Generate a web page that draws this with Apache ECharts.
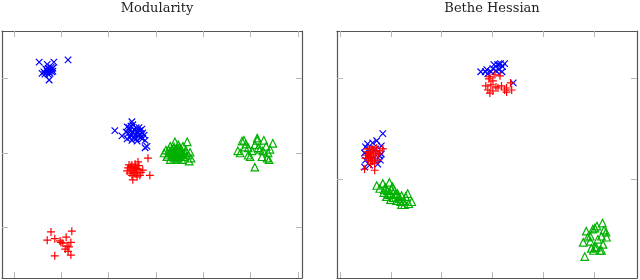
<!DOCTYPE html>
<html>
<head>
<meta charset="utf-8">
<script src="https://cdn.jsdelivr.net/npm/echarts@6/dist/echarts.min.js"></script>
<style>html,body{margin:0;padding:0;background:#fff}#c{width:640px;height:280px}</style>
</head>
<body>
<div id="c"></div>
<script>
// Panel titles
const titles = ["Modularity", "Bethe Hessian"];

// Tick positions (no labels shown)
const modXTicks = [-3, -2, -1, 0, 1, 2, 3];
const modYTicks = [-1, 0, 1];
const bheXTicks = [0, 1, 2, 3, 4, 5];
const bheYTicks = [0, 1];

// Modularity panel: [x, y]
const modBlue = [
  [-2.47,1.22],[-2.30,1.19],[-2.16,1.22],[-1.86,1.25],[-2.41,1.07],[-2.37,1.09],[-2.24,1.11],[-2.20,1.09],[-2.28,1.06],[-2.26,0.98],
  [-2.18,1.10],[-2.33,1.13],[-2.22,1.15],[-2.26,1.09],[-2.30,1.10],[-2.20,1.13],[-2.24,1.07],[-2.35,1.06],[-2.18,1.14],[-2.28,1.14],
  [-0.87,0.30],[-0.72,0.23],[-0.51,0.42],[-0.61,0.35],[-0.55,0.31],[-0.59,0.26],[-0.49,0.28],[-0.42,0.34],[-0.34,0.30],[-0.28,0.27],
  [-0.38,0.23],[-0.47,0.20],[-0.55,0.21],[-0.63,0.28],[-0.32,0.21],[-0.23,0.17],[-0.23,0.07],[-0.19,0.09],[-0.40,0.16],[-0.51,0.17],
  [-0.36,0.34],[-0.44,0.24],[-0.57,0.34],[-0.30,0.32],[-0.53,0.36],[-0.42,0.19],[-0.25,0.24],[-0.61,0.19],[-0.49,0.38],[-0.38,0.28],
  [-0.46,0.31],[-0.34,0.25],[-0.29,0.19],[-0.52,0.25],[-0.40,0.29]
];
const modRed = [
  [-0.17,-0.07],[-0.38,-0.12],[-0.51,-0.16],[-0.13,-0.30],[-0.49,-0.36],[-0.59,-0.20],[-0.53,-0.23],[-0.44,-0.19],[-0.38,-0.22],[-0.32,-0.26],
  [-0.42,-0.28],[-0.51,-0.30],[-0.55,-0.27],[-0.36,-0.17],[-0.28,-0.23],[-0.47,-0.24],[-0.40,-0.32],[-0.57,-0.16],[-0.34,-0.30],[-0.44,-0.15],[-0.61,-0.24],
  [-0.49,-0.20],[-0.45,-0.26],[-0.53,-0.18],[-0.41,-0.21],
  [-2.22,-1.06],[-1.78,-1.05],[-2.30,-1.17],[-2.14,-1.15],[-2.01,-1.20],[-1.90,-1.13],[-1.80,-1.20],[-1.92,-1.29],[-1.86,-1.32],[-1.80,-1.37],
  [-2.14,-1.38],[-1.88,-1.25],[-1.97,-1.21],[-2.03,-1.18],[-1.84,-1.26]
];
const modGreen = [
  [0.40,0.15],[0.66,0.15],[0.30,0.09],[0.47,0.11],[0.57,0.09],[0.21,0.04],[0.34,0.05],[0.51,0.05],[0.63,0.04],[0.72,0.01],
  [0.17,0.00],[0.28,0.00],[0.40,0.01],[0.53,0.00],[0.68,-0.03],[0.23,-0.05],[0.36,-0.04],[0.49,-0.04],[0.59,-0.05],[0.74,-0.07],
  [0.30,-0.09],[0.44,-0.09],[0.55,-0.09],[0.70,-0.11],[0.42,-0.01],[0.32,0.03],[0.55,0.03],[0.25,-0.03],[0.61,0.00],[0.38,-0.07],
  [0.38,0.08],[0.45,0.06],[0.43,0.03],[0.49,0.02],[0.36,0.01],[0.46,-0.02],[0.52,-0.01],[0.33,-0.02],[0.41,-0.05],[0.47,-0.07],
  [0.27,0.04],[0.58,-0.02],[0.50,0.08],[0.39,0.04],[0.44,-0.04],
  [1.82,0.16],[1.86,0.17],[2.14,0.20],[2.28,0.17],[2.47,0.13],[1.73,0.03],[1.95,0.07],[1.99,-0.05],[2.09,0.11],[2.20,0.05],
  [2.26,0.03],[2.35,-0.07],[2.39,-0.09],[2.09,-0.19],[2.24,-0.05],[1.88,0.08],[1.78,0.00],[2.37,0.00],[2.16,0.07],[2.14,0.17],
  [1.95,-0.03],[2.03,0.03],[2.33,0.09],[2.41,0.05],[1.90,0.12]
];

// Bethe Hessian panel: [x, y]
const bheBlue = [
  [2.77,1.06],[2.86,1.06],[2.91,1.04],[3.01,1.09],[3.10,1.13],[3.16,1.14],[3.24,1.14],[3.20,1.11],[3.07,1.07],[3.13,1.08],
  [3.41,0.95],[3.19,1.06],[2.97,1.06],[3.03,1.13],[3.13,1.13],[2.89,1.08],
  [0.84,0.45],[0.72,0.38],[0.81,0.33],[0.48,0.12],[0.79,0.19],[0.81,0.25],[0.50,0.32],[0.54,0.35],[0.64,0.36],[0.48,0.26],
  [0.50,0.19],[0.58,0.14],[0.74,0.15],[0.70,0.30],[0.58,0.28],[0.66,0.21],[0.78,0.23],[0.54,0.23]
];
const bheRed = [
  [2.95,1.01],[3.05,1.03],[3.15,1.02],[2.87,0.92],[2.97,0.93],[2.91,0.88],[3.01,0.87],[3.11,0.90],[3.18,0.92],[3.28,0.90],
  [3.36,0.95],[3.28,0.86],[2.95,0.85],[3.01,0.97],[3.38,0.88],[3.24,0.88],[3.07,0.91],[2.93,0.99],
  [0.48,0.10],[0.68,0.09],[0.84,0.30],[0.54,0.30],[0.62,0.32],[0.72,0.31],[0.58,0.26],[0.66,0.27],[0.76,0.25],[0.52,0.24],
  [0.60,0.23],[0.70,0.23],[0.56,0.19],[0.64,0.18],[0.74,0.19],[0.60,0.15],[0.68,0.16],[0.54,0.27],[0.78,0.28],[0.50,0.21],
  [0.66,0.25],[0.58,0.30],[0.62,0.21],[0.56,0.24],[0.70,0.27],[0.64,0.29],[0.60,0.19]
];
const bheGreen = [
  [0.72,-0.06],[0.84,-0.04],[0.97,-0.03],[0.89,-0.08],[1.03,-0.07],[0.78,-0.09],[0.93,-0.11],[1.07,-0.11],[0.86,-0.13],[0.99,-0.14],
  [1.13,-0.14],[1.21,-0.16],[0.91,-0.17],[1.05,-0.18],[1.17,-0.19],[1.29,-0.17],[1.33,-0.14],[1.25,-0.21],[1.11,-0.21],[1.41,-0.22],
  [1.21,-0.25],[1.27,-0.25],[1.35,-0.24],[0.99,-0.20],[1.09,-0.15],[0.87,-0.10],[1.01,-0.10],[1.15,-0.17],[0.95,-0.15],[1.19,-0.22],
  [5.17,-0.43],[5.02,-0.48],[4.98,-0.49],[5.20,-0.50],[4.85,-0.51],[4.88,-0.57],[4.79,-0.62],[4.93,-0.61],[5.08,-0.59],[5.15,-0.56],
  [5.18,-0.64],[5.05,-0.67],[4.95,-0.68],[5.15,-0.70],[4.82,-0.76],[4.99,-0.70],[5.24,-0.52],[5.25,-0.57],[5.12,-0.70],[5.02,-0.67],
  [4.93,-0.56],[5.06,-0.46]
];

const FRAME = '#555555', TICK = '#b8b8b8';
const CROSS = 'path://M0,0L10,10M10,0L0,10';
const PLUS = 'path://M5,0L5,10M0,5L10,5';

function ax(grid, pos, min, max, ticks) {
  return {type:'value', gridIndex:grid, position:pos, min:min, max:max,
    axisLine:{show:true, onZero:false, lineStyle:{color:FRAME, width:1.2}},
    axisTick:{show:true, inside:true, length:6, customValues:ticks, lineStyle:{color:TICK, width:1}},
    axisLabel:{show:false}, splitLine:{show:false}};
}
function mk(name, data, xi, yi, sym, size, color) {
  return {type:'scatter', name:name, data:data, xAxisIndex:xi, yAxisIndex:yi,
    symbol:sym, symbolSize:size, silent:true,
    itemStyle:{color:'rgba(0,0,0,0)', borderColor:color, borderWidth:1.2, opacity:1},
    emphasis:{disabled:true}};
}

const chart = echarts.init(document.getElementById('c'), null, {renderer:'canvas'});
chart.setOption({
  animation:false,
  backgroundColor:'#ffffff',
  title:[
    {text:titles[0], left:152, top:-3, textAlign:'center',
     textStyle:{fontFamily:'DejaVu Serif', fontWeight:'normal', fontSize:13, color:'#222'}},
    {text:titles[1], left:487, top:-3, textAlign:'center',
     textStyle:{fontFamily:'DejaVu Serif', fontWeight:'normal', fontSize:13, color:'#222'}}
  ],
  grid:[
    {left:2, top:31, width:300, height:247},
    {left:337, top:31, width:300, height:247}
  ],
  xAxis:[
    ax(0,'bottom',-3.256,3.087,modXTicks),
    ax(0,'top',-3.256,3.087,modXTicks),
    ax(1,'bottom',-0.063,5.85,bheXTicks),
    ax(1,'top',-0.063,5.85,bheXTicks)
  ],
  yAxis:[
    ax(0,'left',-1.678,1.638,modYTicks),
    ax(0,'right',-1.678,1.638,modYTicks),
    ax(1,'left',-0.971,1.461,bheYTicks),
    ax(1,'right',-0.971,1.461,bheYTicks)
  ],
  series:[
    mk('modBlue', modBlue, 0, 0, CROSS, 6.5, '#0000ff'),
    mk('modRed', modRed, 0, 0, PLUS, 8, '#ff0000'),
    mk('modGreen', modGreen, 0, 0, 'triangle', 7.5, '#00b000'),
    mk('bheBlue', bheBlue, 2, 2, CROSS, 6.5, '#0000ff'),
    mk('bheRed', bheRed, 2, 2, PLUS, 8, '#ff0000'),
    mk('bheGreen', bheGreen, 2, 2, 'triangle', 7.5, '#00b000')
  ]
});
</script>
</body>
</html>
